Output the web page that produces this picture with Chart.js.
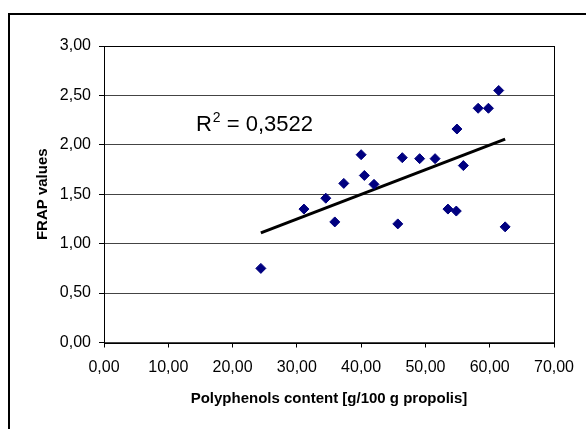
<!DOCTYPE html>
<html>
<head>
<meta charset="utf-8">
<script src="https://cdn.jsdelivr.net/npm/chart.js@4.4.0/dist/chart.umd.min.js"></script>
<style>
  html, body { margin: 0; padding: 0; background: #fff; overflow: hidden; }
  #wrap { position: relative; width: 586px; height: 429px; }
</style>
</head>
<body>
<div id="wrap"><canvas id="frapChart"></canvas></div>
<script>
// values
const polyphenols = [24.4, 31.1, 34.5, 35.9, 37.3, 40.0, 40.5, 42.0, 45.7, 46.4,
                     49.1, 51.5, 53.5, 54.8, 54.9, 55.9, 58.2, 59.8, 61.4, 62.4];
const frapValues  = [0.75, 1.35, 1.46, 1.22, 1.61, 1.90, 1.69, 1.60, 1.20, 1.87,
                     1.86, 1.86, 1.35, 1.33, 2.16, 1.79, 2.37, 2.37, 2.55, 1.17];
const xTicks = [0, 10, 20, 30, 40, 50, 60, 70];
const yTicks = [0, 0.5, 1, 1.5, 2, 2.5, 3];
const r2Text = '0,3522';

const fmt = v => v.toFixed(2).replace('.', ',');

// Excel style linear trendline (least squares), drawn from min x to max x
function linearFit(xs, ys) {
    const n = xs.length;
    const mx = xs.reduce((a, b) => a + b, 0) / n;
    const my = ys.reduce((a, b) => a + b, 0) / n;
    let sxy = 0, sxx = 0;
    xs.forEach((x, i) => { sxy += (x - mx) * (ys[i] - my); sxx += (x - mx) * (x - mx); });
    const slope = sxy / sxx;
    return { slope: slope, intercept: my - slope * mx };
}
const fit = linearFit(polyphenols, frapValues);
const xLo = Math.min(...polyphenols), xHi = Math.max(...polyphenols);
const trendPoints = [
    { x: xLo, y: fit.intercept + fit.slope * xLo },
    { x: xHi, y: fit.intercept + fit.slope * xHi }
];

const framePlugin = {
    id: 'frame',
    beforeDraw(chart) {
        const ctx = chart.ctx;
        ctx.save();
        ctx.fillStyle = '#fff';
        ctx.fillRect(0, 0, chart.width, chart.height);
        ctx.strokeStyle = '#000';
        ctx.lineWidth = 2;
        ctx.beginPath();
        ctx.moveTo(9, chart.height + 5);
        ctx.lineTo(9, 14);
        ctx.lineTo(chart.width + 5, 14);
        ctx.stroke();
        ctx.restore();
    },
    beforeDatasetsDraw(chart) {
        const a = chart.chartArea, ctx = chart.ctx;
        ctx.save();
        ctx.strokeStyle = '#000';
        ctx.lineWidth = 1;
        ctx.strokeRect(Math.round(a.left) + 0.5, Math.round(a.top) + 0.5,
                       Math.round(a.right - a.left), Math.round(a.bottom - a.top));
        ctx.restore();
    },
    afterDatasetsDraw(chart) {
        // R² label, placed in data coordinates like Excel's trendline label
        const ctx = chart.ctx;
        const px = chart.scales.x.getPixelForValue(14.3);
        const py = chart.scales.y.getPixelForValue(2.14);
        ctx.save();
        ctx.fillStyle = '#000';
        ctx.textBaseline = 'alphabetic';
        ctx.textAlign = 'left';
        ctx.font = '22px "Liberation Sans", Arial, sans-serif';
        ctx.fillText('R', px, py);
        let w = ctx.measureText('R').width;
        ctx.font = '14px "Liberation Sans", Arial, sans-serif';
        ctx.fillText('2', px + w + 1, py - 9);
        w += ctx.measureText('2').width + 1;
        ctx.font = '22px "Liberation Sans", Arial, sans-serif';
        ctx.fillText(' = ' + r2Text, px + w, py);
        ctx.restore();
    }
};

Chart.defaults.color = '#000';
Chart.defaults.font.family = '"Liberation Sans", Arial, sans-serif';

new Chart(document.getElementById('frapChart'), {
    type: 'scatter',
    data: {
        datasets: [{
            label: 'FRAP',
            data: polyphenols.map((x, i) => ({ x: x, y: frapValues[i] })),
            pointStyle: 'rectRot',
            pointRadius: 5,
            pointHoverRadius: 5,
            backgroundColor: '#000080',
            borderColor: '#000080',
            borderWidth: 1
        }, {
            label: 'Trend',
            type: 'line',
            data: trendPoints,
            showLine: true,
            borderColor: '#000',
            borderWidth: 3,
            pointRadius: 0,
            fill: false
        }]
    },
    options: {
        responsive: true,
        maintainAspectRatio: false,
        animation: false,
        events: [],
        layout: { padding: { top: 46, right: 32, left: 0, bottom: 0 } },
        plugins: {
            legend: { display: false },
            tooltip: { enabled: false }
        },
        scales: {
            x: {
                type: 'linear',
                min: xTicks[0],
                max: xTicks[xTicks.length - 1],
                ticks: {
                    stepSize: xTicks[1] - xTicks[0],
                    font: { size: 16 },
                    padding: 10,
                    maxRotation: 0,
                    callback: v => fmt(v)
                },
                grid: { drawOnChartArea: false, tickLength: 5, color: '#000', tickColor: '#000' },
                border: { display: false },
                title: {
                    display: true,
                    text: 'Polyphenols content [g/100 g propolis]',
                    font: { size: 15, weight: 'bold' },
                    padding: { top: 0, bottom: 21 }
                },
                afterFit(scale) { scale.height = 86.5; }
            },
            y: {
                min: yTicks[0],
                max: yTicks[yTicks.length - 1],
                ticks: {
                    stepSize: yTicks[1] - yTicks[0],
                    font: { size: 16 },
                    padding: 8,
                    callback: v => fmt(v)
                },
                grid: { tickLength: 5, color: '#444', tickColor: '#000' },
                border: { display: false },
                title: {
                    display: true,
                    text: 'FRAP values',
                    font: { size: 15, weight: 'bold' },
                    padding: { top: 33.5, bottom: 0 }
                },
                afterFit(scale) { scale.width = 104; }
            }
        }
    },
    plugins: [framePlugin]
});
</script>
</body>
</html>
